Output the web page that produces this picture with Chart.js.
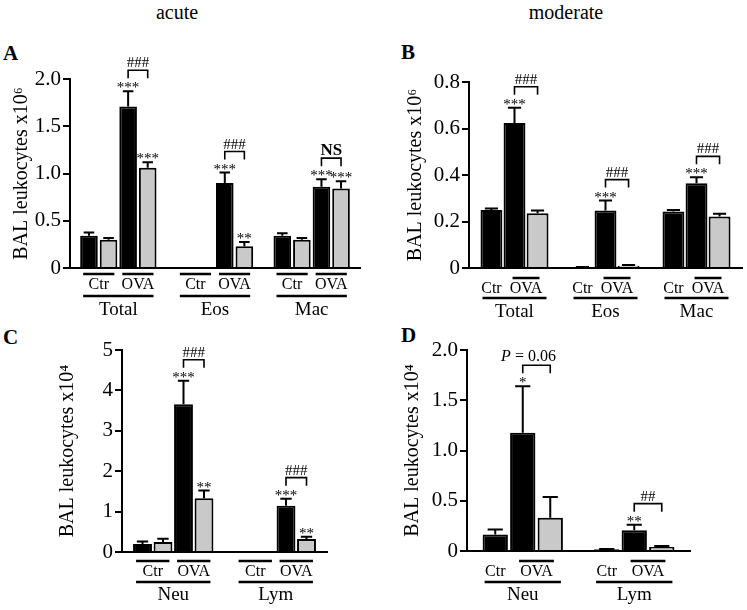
<!DOCTYPE html>
<html>
<head>
<meta charset="utf-8">
<script src="https://cdn.jsdelivr.net/npm/chart.js@4.4.1/dist/chart.umd.min.js"></script>
<style>
body { margin: 0; width: 747px; height: 610px; background: #fff; position: relative; overflow: hidden; font-family: "Liberation Serif", serif; color: #000; }
canvas { position: absolute; }
.title { position: absolute; font-size: 20px; transform: translateX(-50%); }
.letter { position: absolute; font-size: 21px; font-weight: bold; }
</style>
</head>
<body>
<div class="title" style="left:177px; top:1px">acute</div>
<div class="title" style="left:566px; top:1px">moderate</div>
<div class="letter" style="left:3px; top:41px">A</div>
<div class="letter" style="left:401px; top:40px">B</div>
<div class="letter" style="left:3px; top:325px">C</div>
<div class="letter" style="left:401px; top:323px">D</div>
<canvas id="chartA" width="370" height="285" style="left:0; top:40px"></canvas>
<canvas id="chartB" width="377" height="285" style="left:370px; top:40px"></canvas>
<canvas id="chartC" width="370" height="290" style="left:0; top:320px"></canvas>
<canvas id="chartD" width="377" height="290" style="left:370px; top:320px"></canvas>
<script>
var FONT = '"Liberation Serif", serif';
var BLACK = '#000000';
var GRAY = '#c9c9c9';
var subLabels = ['Ctr', 'OVA'];

// A - acute, x10^6
var catsA = ['Total', 'Eos', 'Mac'];
var ctrBlackA = [0.34, 0, 0.34];
var ctrBlackSemA = [0.035, 0, 0.028];
var ctrGrayA = [0.30, 0, 0.30];
var ctrGraySemA = [0.017, 0, 0.017];
var ovaBlackA = [1.71, 0.90, 0.86];
var ovaBlackSemA = [0.16, 0.11, 0.08];
var ovaGrayA = [1.06, 0.23, 0.84];
var ovaGraySemA = [0.06, 0.045, 0.077];
var starsBlackA = ['***', '***', '***'];
var starsGrayA = ['***', '**', '***'];
var bracketA = ['###', '###', 'NS'];
var ticksA = ['0', '0.5', '1.0', '1.5', '2.0'];

// B - moderate, x10^6
var catsB = ['Total', 'Eos', 'Mac'];
var ctrB = [0.25, 0.003, 0.243];
var ctrSemB = [0.006, 0.001, 0.007];
var ovaBlackB = [0.624, 0.247, 0.364];
var ovaBlackSemB = [0.065, 0.043, 0.026];
var ovaGrayB = [0.236, 0.01, 0.221];
var ovaGraySemB = [0.011, 0.003, 0.012];
var starsBlackB = ['***', '***', '***'];
var bracketB = ['###', '###', '###'];
var ticksB = ['0', '0.2', '0.4', '0.6', '0.8'];

// C - acute, x10^4
var catsC = ['Neu', 'Lym'];
var ctrBlackC = [0.2, 0];
var ctrBlackSemC = [0.06, 0];
var ctrGrayC = [0.25, 0];
var ctrGraySemC = [0.075, 0];
var ovaBlackC = [3.66, 1.145];
var ovaBlackSemC = [0.58, 0.175];
var ovaGrayC = [1.33, 0.32];
var ovaGraySemC = [0.19, 0.06];
var starsBlackC = ['***', '***'];
var starsGrayC = ['**', '**'];
var bracketC = ['###', '###'];
var ticksC = ['0', '1', '2', '3', '4', '5'];

// D - moderate, x10^4
var catsD = ['Neu', 'Lym'];
var ctrD = [0.163, 0.017];
var ctrSemD = [0.05, 0.004];
var ovaBlackD = [1.176, 0.206];
var ovaBlackSemD = [0.464, 0.056];
var ovaGrayD = [0.332, 0.04];
var ovaGraySemD = [0.206, 0.01];
var starsBlackD = ['*', '**'];
var bracketD = ['P = 0.06', '##'];
var ticksD = ['0', '0.5', '1.0', '1.5', '2.0'];

function bars(data, sem, stars, fill) {
  return { data: data, sem: sem, stars: stars || [], backgroundColor: fill,
           borderColor: BLACK, borderWidth: 2, borderSkipped: 'start' };
}

function hline(ctx, x1, x2, y) {
  ctx.beginPath();
  ctx.moveTo(x1, y);
  ctx.lineTo(x2, y);
  ctx.stroke();
}

// error bars, stars, brackets and the Ctr/OVA labels under the axis
function makeAnnot(a) {
  return {
    id: 'annot',
    afterDatasetsDraw: function(chart) {
      var ctx = chart.ctx, ys = chart.scales.y, bot = chart.chartArea.bottom;
      var sets = chart.data.datasets;
      var metas = sets.map(function(d, i) { return chart.getDatasetMeta(i).data; });
      function errTop(i, j) { return ys.getPixelForValue(sets[i].data[j] + (sets[i].sem[j] || 0)); }
      ctx.save();
      ctx.strokeStyle = BLACK;
      ctx.fillStyle = BLACK;
      ctx.lineWidth = 2;

      sets.forEach(function(d, i) {
        metas[i].forEach(function(b, j) {
          if (!d.sem[j]) return;
          var t = errTop(i, j), h = b.width * 0.3;
          ctx.beginPath();
          ctx.moveTo(b.x, b.y); ctx.lineTo(b.x, t);
          ctx.moveTo(b.x - h, t); ctx.lineTo(b.x + h, t);
          ctx.stroke();
        });
      });

      ctx.textAlign = 'center';
      ctx.textBaseline = 'alphabetic';
      ctx.font = '15px ' + FONT;
      sets.forEach(function(d, i) {
        metas[i].forEach(function(b, j) {
          if (d.stars[j]) ctx.fillText(d.stars[j], b.x, errTop(i, j) + 1);
        });
      });

      var bi = a.ova[0], gi = a.ova[1];
      ctx.lineWidth = 1.6;
      a.brackets.forEach(function(txt, j) {
        if (!txt) return;
        var x1 = metas[bi][j].x, x2 = metas[gi][j].x;
        var yb = Math.min(errTop(bi, j), errTop(gi, j)) - 21;
        ctx.beginPath();
        ctx.moveTo(x1, yb + 8); ctx.lineTo(x1, yb); ctx.lineTo(x2, yb); ctx.lineTo(x2, yb + 8);
        ctx.stroke();
        var cx = (x1 + x2) / 2;
        if (txt === 'NS') {
          ctx.font = 'bold 17px ' + FONT;
          ctx.fillText(txt, cx, yb - 3);
        } else if (txt.indexOf('P') === 0) {
          var rest = txt.slice(1);
          ctx.font = 'italic 16px ' + FONT;
          var wP = ctx.measureText('P').width;
          ctx.font = '16px ' + FONT;
          var wR = ctx.measureText(rest).width;
          var x0 = cx - 8 - (wP + wR) / 2;
          ctx.textAlign = 'left';
          ctx.font = 'italic 16px ' + FONT;
          ctx.fillText('P', x0, yb - 4);
          ctx.font = '16px ' + FONT;
          ctx.fillText(rest, x0 + wP, yb - 4);
          ctx.textAlign = 'center';
        } else {
          ctx.font = '15px ' + FONT;
          ctx.fillText(txt, cx, yb - 3);
        }
      });

      ctx.lineWidth = 2.5;
      ctx.textBaseline = 'middle';
      chart.data.labels.forEach(function(name, j) {
        var cb = a.ctr.map(function(i) { return metas[i][j]; });
        var ob = a.ova.map(function(i) { return metas[i][j]; });
        var cl = cb[0].x - cb[0].width / 2, cr = cb[cb.length - 1].x + cb[cb.length - 1].width / 2;
        var ol = ob[0].x - ob[0].width / 2, or = ob[1].x + ob[1].width / 2;
        if (cb.length > 1) hline(ctx, cl + a.ctrIn, cr - a.ctrIn, bot + a.off[0]);
        hline(ctx, ol + a.ovaIn, or - a.ovaIn, bot + a.off[0]);
        ctx.font = '16px ' + FONT;
        ctx.fillText(subLabels[0], (cl + cr) / 2, bot + a.off[1]);
        ctx.fillText(subLabels[1], (ol + or) / 2, bot + a.off[1]);
        hline(ctx, cl + a.grpIn, or - a.grpIn, bot + a.off[2]);
        ctx.font = '19px ' + FONT;
        ctx.fillText(name, (cl + or) / 2, bot + a.off[3]);
      });
      ctx.restore();
    }
  };
}

function makeChart(id, o) {
  var labels = o.ticks;
  return new Chart(document.getElementById(id), {
    type: 'bar',
    data: { labels: o.cats, datasets: o.sets },
    options: {
      responsive: false,
      animation: false,
      devicePixelRatio: 1,
      layout: { padding: o.pad },
      datasets: { bar: { categoryPercentage: o.catPct, barPercentage: o.barPct } },
      plugins: { legend: { display: false }, tooltip: { enabled: false } },
      scales: {
        x: {
          grid: { display: false, drawTicks: false },
          ticks: { display: false },
          border: { color: BLACK, width: 2 },
          afterFit: function(s) { s.height = 0; }
        },
        y: {
          min: 0, max: o.max,
          ticks: { stepSize: o.step, autoSkip: false, color: BLACK, padding: 2,
                   font: { family: FONT, size: 21 },
                   callback: function(v, i) { return labels[i]; } },
          grid: { drawOnChartArea: false, color: BLACK, lineWidth: 2, tickLength: 7 },
          border: { color: BLACK, width: 2 },
          title: { display: true, text: o.title, color: BLACK,
                   font: { family: FONT, size: 20 }, padding: { top: o.titlePad, bottom: 0 } },
          afterFit: function(s) { s.width = o.axisLeft; }
        }
      }
    },
    plugins: [makeAnnot(o.annot)]
  });
}

makeChart('chartA', {
  cats: catsA,
  sets: [bars(ctrBlackA, ctrBlackSemA, null, BLACK), bars(ctrGrayA, ctrGraySemA, null, GRAY),
         bars(ovaBlackA, ovaBlackSemA, starsBlackA, BLACK), bars(ovaGrayA, ovaGraySemA, starsGrayA, GRAY)],
  max: 2, step: 0.5, ticks: ticksA, title: 'BAL leukocytes x10\u2076',
  pad: { left: 0, top: 39, right: 10, bottom: 57 }, axisLeft: 70, titlePad: 10,
  catPct: 0.81, barPct: 0.9,
  annot: { ctr: [0, 1], ova: [2, 3], brackets: bracketA, off: [6, 17, 28, 42], ctrIn: 3, ovaIn: 3, grpIn: 3 }
});

makeChart('chartB', {
  cats: catsB,
  sets: [bars(ctrB, ctrSemB, null, BLACK), bars(ovaBlackB, ovaBlackSemB, starsBlackB, BLACK),
         bars(ovaGrayB, ovaGraySemB, null, GRAY)],
  max: 0.8, step: 0.2, ticks: ticksB, title: 'BAL leukocytes x10\u2076',
  pad: { left: 0, top: 42, right: 5, bottom: 57 }, axisLeft: 99, titlePad: 34,
  catPct: 0.76, barPct: 0.95,
  annot: { ctr: [0], ova: [1, 2], brackets: bracketB, off: [10, 21, 30, 44], ctrIn: 0, ovaIn: 9, grpIn: 2 }
});

makeChart('chartC', {
  cats: catsC,
  sets: [bars(ctrBlackC, ctrBlackSemC, null, BLACK), bars(ctrGrayC, ctrGraySemC, null, GRAY),
         bars(ovaBlackC, ovaBlackSemC, starsBlackC, BLACK), bars(ovaGrayC, ovaGraySemC, starsGrayC, GRAY)],
  max: 5, step: 1, ticks: ticksC, title: 'BAL leukocytes x10\u2074',
  pad: { left: 0, top: 30, right: 43, bottom: 58 }, axisLeft: 122, titlePad: 56,
  catPct: 0.8, barPct: 0.92,
  annot: { ctr: [0, 1], ova: [2, 3], brackets: bracketC, off: [9, 20, 30, 43], ctrIn: 3, ovaIn: 3, grpIn: 3 }
});

makeChart('chartD', {
  cats: catsD,
  sets: [bars(ctrD, ctrSemD, null, BLACK), bars(ovaBlackD, ovaBlackSemD, starsBlackD, BLACK),
         bars(ovaGrayD, ovaGraySemD, null, GRAY)],
  max: 2, step: 0.5, ticks: ticksD, title: 'BAL leukocytes x10\u2074',
  pad: { left: 0, top: 30, right: 57, bottom: 59 }, axisLeft: 97, titlePad: 31,
  catPct: 0.74, barPct: 0.92,
  annot: { ctr: [0], ova: [1, 2], brackets: bracketD, off: [10, 21, 31, 44], ctrIn: 0, ovaIn: 9, grpIn: 2 }
});
</script>
</body>
</html>
